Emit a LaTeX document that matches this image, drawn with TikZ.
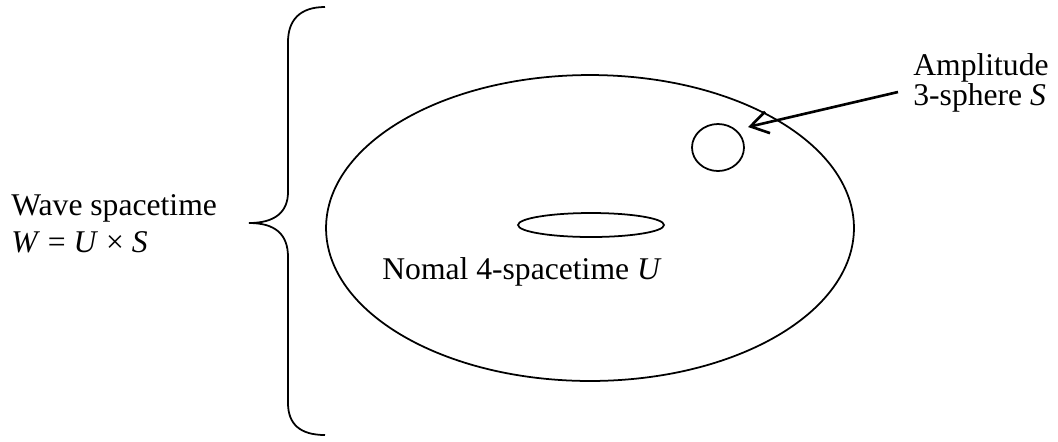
\documentclass[tikz,border=0pt]{standalone}
\usepackage{fontspec}
\setmainfont{Liberation Serif}
\usetikzlibrary{shapes.geometric,arrows.meta}

\begin{document}
\begin{tikzpicture}[x=0.02cm, y=-0.02cm,
      oval/.style={draw, ellipse, inner sep=0pt, line width=1pt},
      lbl/.style={font=\fontsize{18}{21}\selectfont, inner sep=0pt, align=left},
      arr/.style={-{Straight Barb[length=10pt, width=12.5pt]}, line width=1.5pt}]
    \useasboundingbox (0,0) rectangle (1058,441);
    \node[oval, minimum width=10.56cm, minimum height=6.12cm] (w) at (590,228) {};
    \node[oval, minimum width=2.92cm, minimum height=0.48cm] (u) at (591,225) {};
    \node[oval, minimum width=1.04cm, minimum height=0.94cm] (s) at (718,147.5) {};
    \node[lbl, anchor=base west] (lu) at (382,279) {Nomal 4-spacetime \textit{U}};
    \node[lbl, anchor=base west] (lw) at (11,252.7) {Wave spacetime\\
      \textit{W} = \textit{U} × \textit{S}};
    \node[lbl, anchor=base west] (ls) at (913,105) {Amplitude\\[-4.3pt]
      3-sphere \textit{S}};
    % brace round the whole space
    \draw[line width=1pt] (325,7) .. controls (300,7) and (288,20) .. (288,42) -- (288,192)
      .. controls (288,212) and (275,223) .. (249,223)
      .. controls (275,223) and (288,234) .. (288,257) -- (288,403)
      .. controls (288,424) and (300,435) .. (325,435);
    \coordinate (tail) at ([shift={(-15,-13)}]ls.base west);
    \coordinate (tip) at ([shift={(30,-20.5)}]s.center);
    \draw[arr] (tail) -- (tip);
  \end{tikzpicture}
\end{document}
